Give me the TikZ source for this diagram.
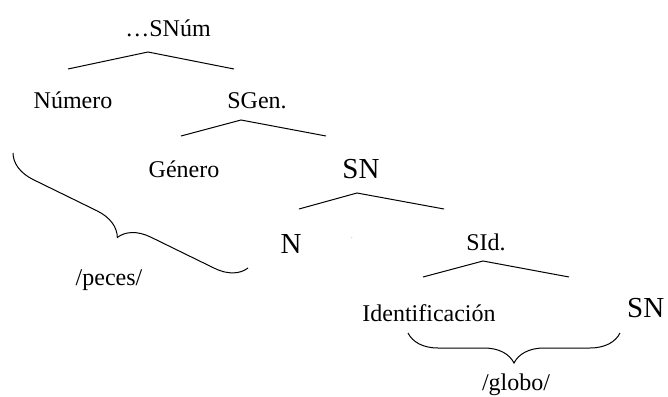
\documentclass[tikz,border=0pt]{standalone}
\usepackage{fontspec}
\setmainfont{Liberation Serif}
\usetikzlibrary{decorations.pathreplacing}

\tikzset{
  lab/.style={anchor=base,inner sep=0pt,font=\fontsize{24}{28}\selectfont},
  biglab/.style={anchor=base,inner sep=0pt,font=\fontsize{29}{33}\selectfont},
  branch/.style={line width=1pt},
  bracket/.style={line width=1pt,decorate,decoration={brace,amplitude=30pt}}
}

\begin{document}
\begin{tikzpicture}[x=1pt,y=-1pt]
\useasboundingbox (0,0) rectangle (668,396);

\node[lab] (snum) at (168,37) {…SNúm};
\node[lab] (num) at (73,108) {Número};
\node[lab] (sgen) at (257,108) {SGen.};
\node[lab] (gen) at (184,177) {Género};
\node[biglab] (sn) at (361,178) {SN};
\node[biglab] (n) at (291,253) {N};
\node[inner sep=0pt,font=\tiny] (dot) at (352,238) {.};
\node[lab] (sid) at (486,250) {SId.};
\node[lab] (ident) at (429,321) {Identificación};
\node[biglab,anchor=base west] (sn2) at (627,317) {SN};
\node[lab] (peces) at (109,285) {/peces/};
\node[lab] (globo) at (516,390) {/globo/};

% branches
\coordinate (snum-l) at (68,69);
\coordinate (snum-t) at (148,52);
\coordinate (snum-r) at (234,69);
\draw[branch] (snum-l) -- (snum-t) -- (snum-r);

\coordinate (sgen-l) at (181,136);
\coordinate (sgen-t) at (241,120);
\coordinate (sgen-r) at (326,136);
\draw[branch] (sgen-l) -- (sgen-t) -- (sgen-r);

\coordinate (sn-l) at (299,209);
\coordinate (sn-t) at (357,193);
\coordinate (sn-r) at (444,209);
\draw[branch] (sn-l) -- (sn-t) -- (sn-r);

\coordinate (sid-l) at (423,277);
\coordinate (sid-t) at (483,261);
\coordinate (sid-r) at (569,277);
\draw[branch] (sid-l) -- (sid-t) -- (sid-r);

% braces
\coordinate (pec-a) at (248,268);
\coordinate (pec-b) at (13,153);
\draw[bracket] (pec-a) -- (pec-b);

\coordinate (glo-a) at (620,333);
\coordinate (glo-b) at (408,333);
\draw[bracket] (glo-a) -- (glo-b);
\end{tikzpicture}
\end{document}
